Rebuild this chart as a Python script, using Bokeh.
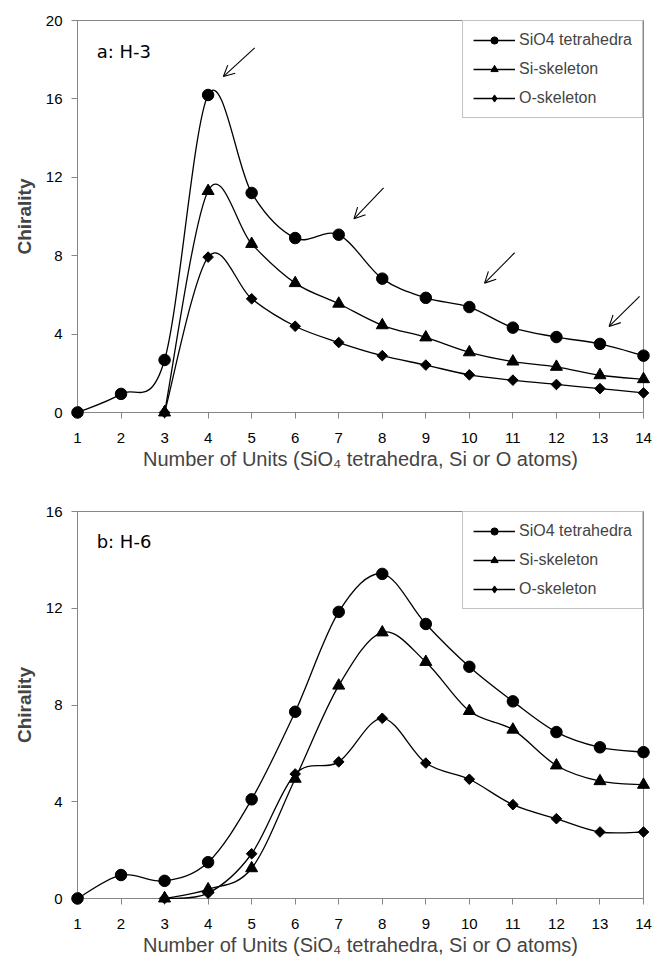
from bokeh.plotting import figure
from bokeh.layouts import column
from bokeh.models import (Range1d, FixedTicker, Legend, LegendItem, Label, Arrow, OpenHead,
                          ColumnDataSource)
from bokeh.embed import file_html
from bokeh.resources import INLINE
import numpy as np

# ---------------- data ----------------
units = list(range(1, 15))
units_skel = list(range(3, 15))
x_ticks = list(range(1, 15))

# panel a: H-3
sio4_a = [0, 0.95, 2.68, 16.2, 11.2, 8.9, 9.07, 6.83, 5.85, 5.38, 4.33, 3.85, 3.5, 2.9]
si_a = [0, 11.3, 8.6, 6.6, 5.55, 4.45, 3.83, 3.07, 2.6, 2.33, 1.9, 1.7]
o_a = [0, 7.93, 5.8, 4.4, 3.57, 2.9, 2.42, 1.92, 1.65, 1.43, 1.22, 1.0]
y_ticks_a = [0, 4, 8, 12, 16, 20]
# arrows in panel a (tail x, tail y, head x, head y)
arrows_a = [
    (5.07, 18.6, 4.35, 17.14),
    (8.03, 11.46, 7.35, 9.88),
    (11.04, 8.15, 10.35, 6.6),
    (13.91, 5.93, 13.21, 4.39),
]

# panel b: H-6
sio4_b = [0, 0.97, 0.73, 1.5, 4.1, 7.72, 11.85, 13.42, 11.35, 9.58, 8.15, 6.88, 6.25, 6.05]
si_b = [0, 0.38, 1.25, 4.95, 8.8, 11.0, 9.78, 7.75, 6.98, 5.5, 4.85, 4.7]
o_b = [0, 0.22, 1.85, 5.15, 5.65, 7.45, 5.6, 4.93, 3.88, 3.3, 2.75, 2.75]
y_ticks_b = [0, 4, 8, 12, 16]

series_names = ["SiO4 tetrahedra", "Si-skeleton", "O-skeleton"]

FONT = "Liberation Sans"
GREY = "#868686"


def smooth_segments(xs, ys):
    """Bezier control points (Catmull-Rom style, like a spreadsheet 'smoothed line')."""
    n = len(xs)
    d = dict(x0=[], y0=[], x1=[], y1=[], cx0=[], cy0=[], cx1=[], cy1=[])
    for i in range(n - 1):
        x0, y0 = xs[i], ys[i]
        x1, y1 = xs[i + 1], ys[i + 1]
        xp, yp = (xs[i - 1], ys[i - 1]) if i > 0 else (x0, y0)
        xn, yn = (xs[i + 2], ys[i + 2]) if i + 2 < n else (x1, y1)
        d["x0"].append(x0); d["y0"].append(y0)
        d["x1"].append(x1); d["y1"].append(y1)
        d["cx0"].append(x0 + (x1 - xp) / 6.0); d["cy0"].append(y0 + (y1 - yp) / 6.0)
        d["cx1"].append(x1 - (xn - x0) / 6.0); d["cy1"].append(y1 - (yn - y0) / 6.0)
    return d


def make_panel(height, y_max, y_ticks, s1, s2, s3, label_text, label_y, border_top, border_bottom, arrows):
    p = figure(width=653, height=height, x_range=Range1d(1, 14), y_range=Range1d(0, y_max),
               output_backend="svg", toolbar_location=None,
               min_border_left=77, min_border_right=10,
               min_border_top=border_top, min_border_bottom=border_bottom)
    p.grid.visible = False
    p.outline_line_color = GREY
    p.outline_line_width = 1
    p.background_fill_color = "white"
    p.border_fill_color = "white"

    for ax in (p.xaxis[0], p.yaxis[0]):
        ax.axis_line_color = GREY
        ax.major_tick_line_color = GREY
        ax.major_tick_out = 6
        ax.major_tick_in = 0
        ax.minor_tick_line_color = None
        ax.major_label_text_font = FONT
        ax.major_label_text_font_size = "15px"
        ax.major_label_text_color = "black"
    p.xaxis.ticker = FixedTicker(ticks=x_ticks)
    p.yaxis.ticker = FixedTicker(ticks=y_ticks)
    p.xaxis.major_label_standoff = 14
    p.yaxis.major_label_standoff = 9

    p.xaxis.axis_label = "Number of Units (SiO\u2084 tetrahedra, Si or O atoms)"
    p.xaxis.axis_label_text_font = FONT
    p.xaxis.axis_label_text_font_size = "20px"
    p.xaxis.axis_label_text_font_style = "normal"
    p.xaxis.axis_label_standoff = 2
    p.yaxis.axis_label = "Chirality"
    p.yaxis.axis_label_text_font = FONT
    p.yaxis.axis_label_text_font_size = "19px"
    p.yaxis.axis_label_text_font_style = "bold"
    p.yaxis.axis_label_standoff = 8

    specs = [
        (units, s1, "circle", 11.5, 0.0, "circle", 11.5),
        (units_skel, s2, "triangle", 12, 0.0, "triangle", 12),
        (units_skel, s3, "square", 7.5, np.pi / 4, "diamond", 12),
    ]
    items = []
    for (xs, ys, marker, size, ang, leg_marker, leg_size), name in zip(specs, series_names):
        seg = ColumnDataSource(smooth_segments(xs, ys))
        # legend proxies (a one-point line draws nothing; proxy marker sits under the real one)
        lr = p.line(x=xs[:1], y=ys[:1], line_color="black", line_width=1.3)
        pr = p.scatter(x=xs[:1], y=ys[:1], marker=leg_marker, size=min(leg_size, 10),
                       fill_color="black", line_color="black")
        pr.glyph.size = leg_size if leg_marker != "diamond" else 12
        p.bezier(x0="x0", y0="y0", x1="x1", y1="y1", cx0="cx0", cy0="cy0", cx1="cx1", cy1="cy1",
                 source=seg, line_color="black", line_width=1.3, level="overlay")
        sc = p.scatter(x=xs, y=ys, marker=marker, size=size, angle=ang,
                       fill_color="black", line_color="black", level="overlay")
        items.append(LegendItem(label=name, renderers=[lr, pr]))

    legend = Legend(items=items, location="top_right", margin=0, padding=10,
                    glyph_width=42, glyph_height=18, label_height=18, label_standoff=4,
                    spacing=11, label_text_font=FONT, label_text_font_size="16px",
                    border_line_color=GREY, border_line_width=1,
                    background_fill_color="white", background_fill_alpha=1.0)
    p.add_layout(legend)

    p.add_layout(Label(x=1.44, y=label_y, text=label_text, text_font="DejaVu Sans",
                       text_font_size="18px", text_color="black", text_baseline="alphabetic"))

    for (xs0, ys0, xe, ye) in arrows:
        p.add_layout(Arrow(end=OpenHead(size=11, line_width=1.1, line_color="black"),
                           x_start=xs0, y_start=ys0, x_end=xe, y_end=ye,
                           line_color="black", line_width=1.1))
    return p


p1 = make_panel(480, 20, y_ticks_a, sio4_a, si_a, o_a, "a: H-3", 18.4, 20, 68, arrows_a)
p2 = make_panel(478, 16, y_ticks_b, sio4_b, si_b, o_b, "b: H-6", 14.74, 31, 58, [])

layout = column(p1, p2)
open("out.html", "w").write(file_html(layout, INLINE))
